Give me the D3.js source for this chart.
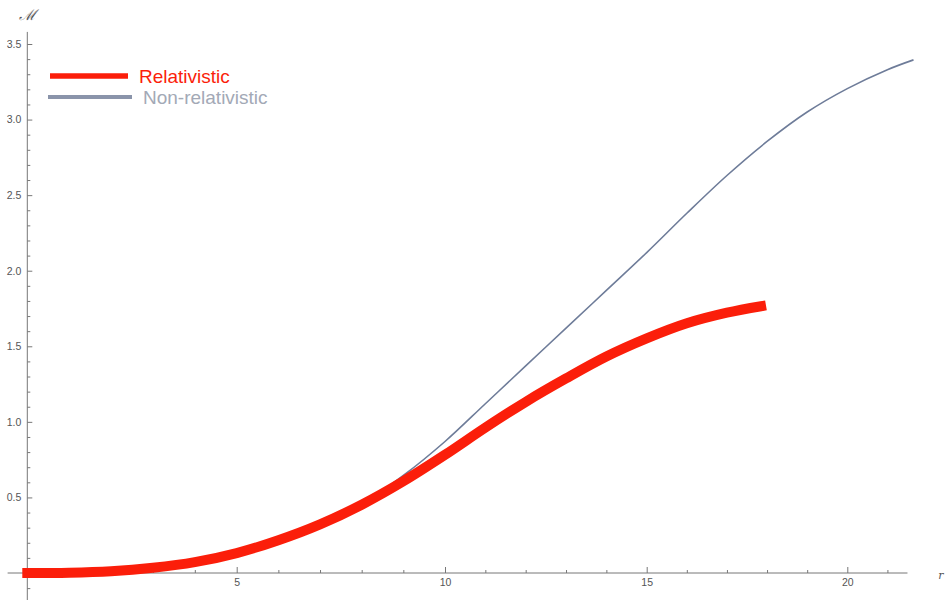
<!DOCTYPE html>
<html>
<head>
<meta charset="utf-8">
<script src="https://cdn.jsdelivr.net/npm/d3@7"></script>
<style>
  html, body { margin: 0; padding: 0; background: #fff; }
  svg { display: block; }
</style>
</head>
<body>
<svg id="chart" width="946" height="600"></svg>
<script>
// Radial coordinate samples and the two mass profiles M(r)
const relR   = [0, 1, 2, 3, 4, 5, 6, 7, 8, 9, 10, 11, 12, 13, 14, 15, 16, 17, 17.85];
const relM   = [0, 0.002, 0.012, 0.035, 0.072, 0.132, 0.217, 0.322, 0.452, 0.607, 0.782, 0.962, 1.132, 1.287, 1.432, 1.552, 1.652, 1.722, 1.765];
const nonR   = [0, 1, 2, 3, 4, 5, 6, 7, 8, 9, 10, 11, 12, 13, 14, 15, 16, 17, 18, 19, 20, 21, 21.65];
const nonM   = [0, 0.002, 0.012, 0.035, 0.072, 0.132, 0.217, 0.322, 0.455, 0.645, 0.87, 1.12, 1.37, 1.62, 1.87, 2.12, 2.38, 2.63, 2.855, 3.05, 3.205, 3.33, 3.395];

const seriesNames = ["Relativistic", "Non-relativistic"];
const xMajorTicks = [5, 10, 15, 20];
const yMajorTicks = [0.5, 1.0, 1.5, 2.0, 2.5, 3.0, 3.5];

const RED = "#fb1e0a";
const GREY = "#6e7c99";

const svg = d3.select("#chart");

// piecewise x scale follows the plotted frame's tick spacing
const x = d3.scaleLinear()
  .domain([0, 5, 10, 15, 20])
  .range([27.3, 236.7, 445, 646.7, 847.3]);
const y = d3.scaleLinear().domain([0, 3.5]).range([573, 44]);

const axisColor = "#777";
const labelColor = "#555";

// axis lines
svg.append("line")
  .attr("x1", x(-0.47)).attr("x2", x(21.5))
  .attr("y1", y(0)).attr("y2", y(0))
  .attr("stroke", axisColor).attr("stroke-width", 1);
svg.append("line")
  .attr("x1", x(0)).attr("x2", x(0))
  .attr("y1", y(3.58)).attr("y2", y(-0.19))
  .attr("stroke", axisColor).attr("stroke-width", 1);

// x minor ticks
const xMinor = d3.range(1, 22).filter(v => v % 5 !== 0);
svg.append("g")
  .attr("transform", `translate(0,${y(0)})`)
  .call(d3.axisBottom(x).tickValues(xMinor).tickSize(-3).tickFormat(""))
  .call(g => g.select(".domain").remove())
  .call(g => g.selectAll("line").attr("stroke", axisColor));

// x major ticks
svg.append("g")
  .attr("transform", `translate(0,${y(0)})`)
  .call(d3.axisBottom(x).tickValues(xMajorTicks).tickSize(-6).tickPadding(6).tickFormat(d3.format("d")))
  .call(g => g.select(".domain").remove())
  .call(g => g.selectAll("line").attr("stroke", axisColor))
  .call(g => g.selectAll("text")
    .attr("fill", labelColor)
    .attr("font-family", "Liberation Sans, Arial, sans-serif")
    .attr("font-size", 10.5));

// y minor ticks
const yMinor = d3.range(-1, 36).map(v => v / 10).filter(v => Math.abs(Math.round(v * 10) % 5) !== 0);
svg.append("g")
  .attr("transform", `translate(${x(0)},0)`)
  .call(d3.axisLeft(y).tickValues(yMinor).tickSize(-3).tickFormat(""))
  .call(g => g.select(".domain").remove())
  .call(g => g.selectAll("line").attr("stroke", axisColor));

// y major ticks
svg.append("g")
  .attr("transform", `translate(${x(0)},0)`)
  .call(d3.axisLeft(y).tickValues(yMajorTicks).tickSize(-5).tickPadding(6).tickFormat(d3.format(".1f")))
  .call(g => g.select(".domain").remove())
  .call(g => g.selectAll("line").attr("stroke", axisColor))
  .call(g => g.selectAll("text")
    .attr("fill", labelColor)
    .attr("font-family", "Liberation Sans, Arial, sans-serif")
    .attr("font-size", 10.5));

// axis labels
svg.append("text")
  .attr("x", x(0)).attr("y", 20)
  .attr("text-anchor", "middle")
  .attr("font-family", "DejaVu Serif, serif")
  .attr("font-style", "italic")
  .attr("font-size", 15)
  .attr("fill", labelColor)
  .text("ℳ");
svg.append("text")
  .attr("x", 941).attr("y", 579)
  .attr("text-anchor", "middle")
  .attr("font-family", "DejaVu Serif, serif")
  .attr("font-style", "italic")
  .attr("font-size", 11)
  .attr("fill", labelColor)
  .text("r");

const line = d3.line()
  .x(d => x(d[0]))
  .y(d => y(d[1]))
  .curve(d3.curveCatmullRom.alpha(0.5));

// non-relativistic profile (thin)
svg.append("path")
  .datum(nonR.map((r, i) => [r, nonM[i]]))
  .attr("fill", "none")
  .attr("stroke", GREY)
  .attr("stroke-width", 1.6)
  .attr("d", line);

// relativistic profile (thick)
svg.append("path")
  .datum(relR.map((r, i) => [r, relM[i]]))
  .attr("fill", "none")
  .attr("stroke", RED)
  .attr("stroke-width", 10)
  .attr("stroke-linecap", "square")
  .attr("d", line);

// legend
const legend = svg.append("g");
const legendItems = [
  { name: seriesNames[0], color: RED, text: RED, width: 5.5, x1: 50, x2: 128, y: 76 },
  { name: seriesNames[1], color: "#8a94aa", text: "#a3a9b6", width: 4, x1: 48, x2: 132, y: 97 }
];
legendItems.forEach(it => {
  legend.append("line")
    .attr("x1", it.x1).attr("x2", it.x2)
    .attr("y1", it.y).attr("y2", it.y)
    .attr("stroke", it.color)
    .attr("stroke-width", it.width);
  legend.append("text")
    .attr("x", it.x2 + 11).attr("y", it.y + 7)
    .attr("font-family", "Liberation Sans, Arial, sans-serif")
    .attr("font-size", 19)
    .attr("fill", it.text)
    .text(it.name);
});
</script>
</body>
</html>
